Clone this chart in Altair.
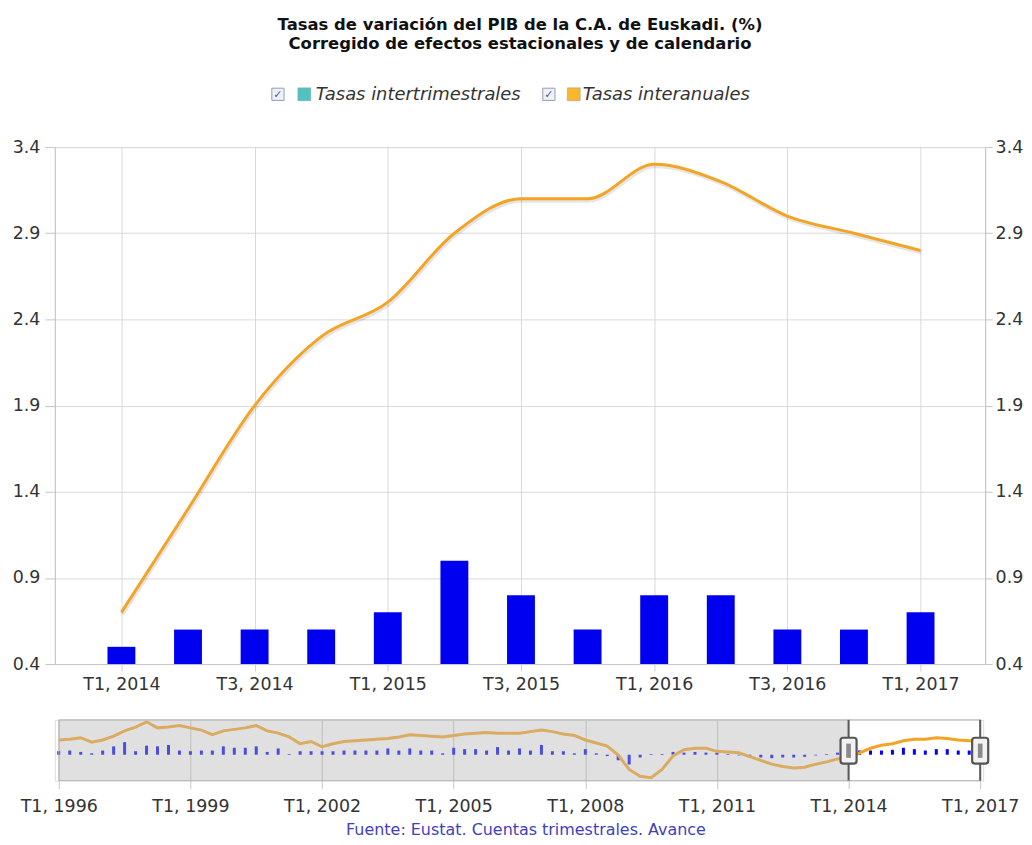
import altair as alt
import pandas as pd

# ---------------- data ----------------
quarters = ["T1, 2014", "T2, 2014", "T3, 2014", "T4, 2014",
            "T1, 2015", "T2, 2015", "T3, 2015", "T4, 2015",
            "T1, 2016", "T2, 2016", "T3, 2016", "T4, 2016",
            "T1, 2017"]
intertrimestral = [0.5, 0.6, 0.6, 0.6, 0.7, 1.0, 0.8, 0.6, 0.8, 0.8, 0.6, 0.6, 0.7]
interanual = [0.7, 1.3, 1.9, 2.3, 2.5, 2.9, 3.1, 3.1, 3.3, 3.2, 3.0, 2.9, 2.8]

# navigator history T1 1996 .. T4 2013 (read from the overview strip)
hist_start_year = 1996
hist_intertrimestral = [0.5, 0.6, 0.4, 0.2, 0.6, 1.2, 1.8, 0.5, 1.3, 1.2,
                        1.4, 0.6, 0.5, 0.6, 0.6, 1.2, 1.0, 1.0, 1.2, 0.4,
                        0.9, 0.1, 0.5, 0.5, 0.5, 0.5, 0.6, 0.6, 0.6, 0.6,
                        0.9, 0.6, 0.9, 0.6, 0.6, 0.2, 1.0, 0.8, 0.8, 0.6,
                        1.1, 0.6, 0.9, 0.6, 1.4, 0.5, 0.5, 0.2, 0.8, 0.2,
                        -0.2, -0.8, -1.4, -0.4, 0.1, 0.1, 0.4, 0.3, 0.4, 0.3,
                        0.3, 0.1, -0.1, -0.2, -0.4, -0.5, -0.4, -0.4, -0.3, -0.1,
                        0.1, 0.3]
hist_interanual = [3.0, 3.1, 3.3, 2.7, 3.0, 3.5, 4.2, 4.7, 5.4, 4.6,
                   4.7, 4.9, 4.6, 4.3, 3.7, 4.2, 4.4, 4.6, 4.9, 4.2,
                   3.9, 3.4, 2.5, 2.8, 2.1, 2.5, 2.8, 2.9, 3.0, 3.1,
                   3.2, 3.4, 3.7, 3.6, 3.5, 3.4, 3.6, 3.8, 3.9, 4.0,
                   3.9, 3.9, 3.9, 4.1, 4.3, 4.1, 3.8, 3.6, 3.0, 2.6,
                   2.2, 1.0, -0.9, -1.8, -2.0, -0.9, 0.9, 1.7, 1.9, 1.9,
                   1.5, 1.4, 1.3, 0.8, 0.3, -0.2, -0.5, -0.7, -0.6, -0.2,
                   0.1, 0.5]

series_names = ["Tasas intertrimestrales", "Tasas interanuales"]
legend_colors = ["#4fc2c2", "#f9b72c"]
title_lines = ["Tasas de variación del PIB de la C.A. de Euskadi. (%)",
               "Corregido de efectos estacionales y de calendario"]
source_text = "Fuente: Eustat. Cuentas trimestrales. Avance"
y_ticks = [0.4, 0.9, 1.4, 1.9, 2.4, 2.9, 3.4]

# ---------------- frames ----------------
df = pd.DataFrame({"idx": list(range(len(quarters))), "quarter": quarters,
                   "intertrimestral": intertrimestral, "interanual": interanual})

nav_inter = hist_intertrimestral + intertrimestral
nav_anual = hist_interanual + interanual
nav_df = pd.DataFrame({
    "idx": list(range(len(nav_anual))),
    "quarter": [f"T{i % 4 + 1}, {hist_start_year + i // 4}" for i in range(len(nav_anual))],
    "intertrimestral": nav_inter,
    "interanual": nav_anual,
})
sel_start = len(hist_interanual)
sel_end = len(nav_anual) - 1

FONT = "DejaVu Sans"
W, H = 934, 519
NW, NH = 932, 61
BLUE = "#0000f0"
ORANGE = "#f4a425"
GRID = "#d9d9d9"
LBL = 17.5

label_js = "[" + ",".join("'" + q + "'" for q in quarters) + "][datum.value]"

x_main = alt.X("idx:Q",
               scale=alt.Scale(domain=[-1, 12.97], nice=False, zero=False, padding=0),
               axis=alt.Axis(values=list(range(0, 13, 2)), labelExpr=label_js, grid=True,
                             gridColor=GRID, tickColor="#d0d0d0", tickSize=7,
                             domainColor="#c8c8c8", labelPadding=5, title=None,
                             labelFlush=False, labelOverlap=False))
yscale = alt.Scale(domain=[0.4, 3.4], nice=False, zero=False, padding=0)

bars = alt.Chart(df).mark_bar(width=28, color=BLUE).encode(
    x=x_main,
    y=alt.Y("intertrimestral:Q", scale=yscale,
            axis=alt.Axis(values=y_ticks, format=".1f", orient="left", grid=True,
                          gridColor=GRID, tickSize=10, tickColor="#c4c4c4",
                          domainColor="#c4c4c4", labelPadding=5, title=None)),
    y2=alt.datum(0.4),
    tooltip=["quarter", "intertrimestral"],
)

shadow = alt.Chart(df).mark_line(color="#000000", opacity=0.1, strokeWidth=4,
                                 interpolate="monotone", xOffset=1, yOffset=2).encode(
    x=x_main, y=alt.Y("interanual:Q", scale=yscale, axis=None))

line = alt.Chart(df).mark_line(color=ORANGE, strokeWidth=3, interpolate="monotone").encode(
    x=x_main,
    y=alt.Y("interanual:Q", scale=yscale,
            axis=alt.Axis(values=y_ticks, format=".1f", orient="right", grid=False,
                          tickSize=7, tickColor="#c4c4c4", domainColor="#c4c4c4",
                          labelPadding=3, title=None)),
    tooltip=["quarter", "interanual"],
)

# custom legend with checkboxes
leg_df = pd.DataFrame({"name": series_names, "color": legend_colors})
LY = -53
leg_layers = []
for i, (xc, xs, xt) in enumerate([(224, 250.5, 262), (496, 521, 530)]):
    one = leg_df.iloc[[i]]
    leg_layers.append(alt.Chart(one).mark_point(shape="square", size=150, filled=True,
                                                 fill="#eef2f8", stroke="#8f9db5",
                                                 strokeWidth=1, opacity=1).encode(
        x=alt.value(xc), y=alt.value(LY)))
    leg_layers.append(alt.Chart(one).mark_text(text="✓", font=FONT, fontSize=11,
                                                fontWeight="bold", color="#4a5a9a").encode(
        x=alt.value(xc), y=alt.value(LY + 1)))
    leg_layers.append(alt.Chart(one).mark_point(shape="square", size=169, filled=True,
                                                 fill=legend_colors[i], stroke="#999999",
                                                 strokeWidth=0.5, opacity=1).encode(
        x=alt.value(xs), y=alt.value(LY)))
    leg_layers.append(alt.Chart(one).mark_text(align="left", baseline="middle", font=FONT,
                                                fontSize=18, fontStyle="italic",
                                                color="#333333").encode(
        x=alt.value(xt), y=alt.value(LY + 1), text="name:N"))

main = alt.layer(bars, shadow, line, *leg_layers).resolve_scale(y="independent").properties(
    width=W, height=H,
    title=alt.Title(text=title_lines, font=FONT, fontSize=16.5, fontWeight="bold",
                    color="#111111", lineHeight=19, anchor="middle", offset=34))

# ---------------- navigator ----------------
nav_scale = alt.Scale(domain=[-0.363, 84.272], nice=False, zero=False, padding=0)
x_nav = alt.X("idx:Q", scale=nav_scale,
              axis=alt.Axis(values=list(range(0, 85, 12)),
                            labelExpr="'T1, ' + (" + str(hist_start_year) + " + datum.value/4)",
                            grid=True, gridColor="#c4c4c4", tickSize=8, tickColor="#c8c8c8",
                            domain=False, labelPadding=9, title=None,
                            labelFlush=False, labelOverlap=False))

nav_bars = alt.Chart(nav_df).mark_bar(width=3, color="#0000ff").encode(
    x=x_nav,
    y=alt.Y("intertrimestral:Q",
            scale=alt.Scale(domain=[-3.71, 5.0], nice=False, zero=False, padding=0),
            axis=None),
    y2=alt.datum(0),
)
nav_line = alt.Chart(nav_df).mark_line(color=ORANGE, strokeWidth=3).encode(
    x=x_nav,
    y=alt.Y("interanual:Q",
            scale=alt.Scale(domain=[-2.37, 5.66], nice=False, zero=False, padding=0),
            axis=None),
)
mask_df = pd.DataFrame({"idx": [0], "idx_end": [sel_start]})
outline_df = pd.DataFrame({"idx": [0], "idx_end": [sel_end]})
mask = alt.Chart(mask_df).mark_rect(fill="#b4b4b4", opacity=0.42).encode(
    x=x_nav, x2="idx_end:Q", y=alt.value(0), y2=alt.value(NH))
outline = alt.Chart(outline_df).mark_rect(fillOpacity=0, stroke="#b8b8b8", strokeWidth=1).encode(
    x=x_nav, x2="idx_end:Q", y=alt.value(0), y2=alt.value(NH))
hdf = pd.DataFrame({"idx": [sel_start, sel_end]})
h_rules = alt.Chart(hdf).mark_rule(color="#5a5a5a", strokeWidth=2).encode(x=x_nav)
handle_path = ("M-0.4,-1 L0.4,-1 Q0.62,-1 0.62,-0.8 L0.62,0.8 Q0.62,1 0.4,1 L-0.4,1 "
               "Q-0.62,1 -0.62,0.8 L-0.62,-0.8 Q-0.62,-1 -0.4,-1 Z")
inner_path = "M-0.18,-0.55 L0.18,-0.55 L0.18,0.55 L-0.18,0.55 Z"
handles = alt.Chart(hdf).mark_point(shape=handle_path, size=676, filled=True, fill="#f2f2f2",
                                    stroke="#555555", strokeWidth=2.2, opacity=1).encode(
    x=x_nav, y=alt.value(31))
handles_in = alt.Chart(hdf).mark_point(shape=inner_path, size=676, filled=True, fill="#8a8a8a",
                                       opacity=1, strokeWidth=0).encode(
    x=x_nav, y=alt.value(31))

nav = alt.layer(nav_bars, nav_line, mask, outline, h_rules, handles, handles_in).resolve_scale(
    y="independent").properties(
    width=NW, height=NH,
    title=alt.Title(text=source_text, orient="bottom", font=FONT, fontSize=16,
                    fontWeight="normal", color="#3f3fc0", anchor="middle", offset=7, dx=7))

chart = alt.vconcat(main, nav, spacing=21).properties(
    padding={"left": 3, "top": 6, "right": 0, "bottom": 2}
).configure_view(stroke=None).configure(font=FONT).configure_axis(
    labelFont=FONT, labelFontSize=LBL, labelColor="#333333")

chart.save("out.html", embed_options={"renderer": "svg", "actions": False})
